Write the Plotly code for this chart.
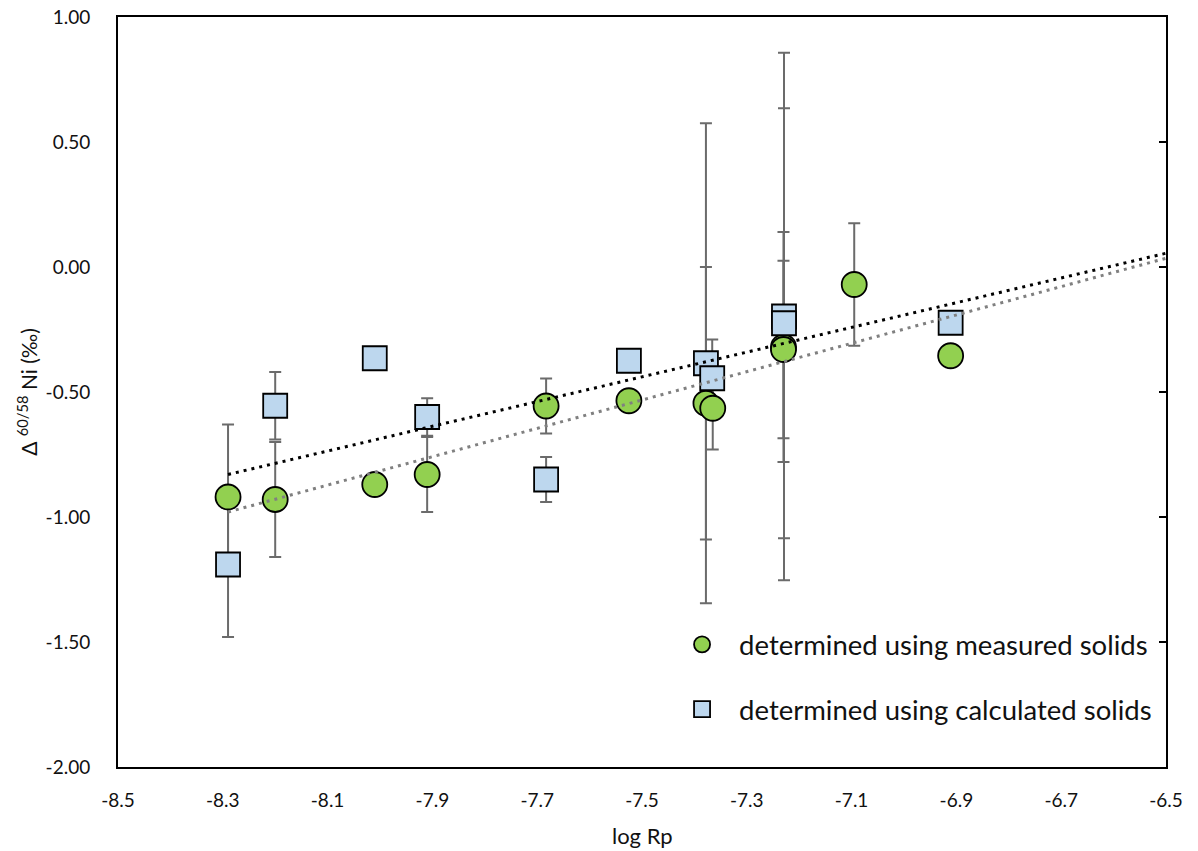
import plotly.graph_objects as go

# ---- data ----
x_meas = [-8.29, -8.20, -8.01, -7.91, -7.683, -7.525, -7.378, -7.365, -7.23, -7.23, -7.095, -6.911]
y_meas = [-0.92, -0.93, -0.87, -0.83, -0.556, -0.535, -0.545, -0.565, -0.32, -0.33, -0.07, -0.355]
e_meas = [0.29, 0.23, 0.0, 0.15, 0.11, 0.0, 0.545, 0.165, 0.46, 0.355, 0.245, 0.0]

x_calc = [-8.29, -8.20, -8.01, -7.91, -7.683, -7.525, -7.378, -7.366, -7.229, -7.229, -6.911]
y_calc = [-1.19, -0.555, -0.365, -0.60, -0.85, -0.375, -0.385, -0.445, -0.198, -0.225, -0.223]
e_calc = [0.29, 0.135, 0.0, 0.075, 0.09, 0.0, 0.96, 0.155, 1.055, 0.86, 0.0]

trend_x = [-8.29, -6.5]
trend_calc = [-0.83, 0.055]
trend_meas = [-0.98, 0.035]

x_ticks = [-8.5, -8.3, -8.1, -7.9, -7.7, -7.5, -7.3, -7.1, -6.9, -6.7, -6.5]
y_ticks = [-2.0, -1.5, -1.0, -0.5, 0.0, 0.5, 1.0]

FONT = "Lato"
TXT = "#111111"
ERR_COLOR = "#6b6b6b"
GREEN = "#92D050"
BLUE = "#BDD7EE"

fig = go.Figure()

# error bars (drawn beneath all markers)
for xs, ys, es in [(x_meas, y_meas, e_meas), (x_calc, y_calc, e_calc)]:
    fig.add_trace(go.Scatter(
        x=xs, y=ys, mode="markers",
        marker=dict(size=2, opacity=0),
        error_y=dict(type="data", array=es, visible=True, color=ERR_COLOR,
                     thickness=2, width=6),
        showlegend=False, hoverinfo="skip"))

# markers
fig.add_trace(go.Scatter(
    x=x_meas, y=y_meas, mode="markers",
    name="determined using measured solids",
    marker=dict(symbol="circle", size=25, color=GREEN,
                line=dict(color="black", width=1.8)),
    legendgroup="a"))
fig.add_trace(go.Scatter(
    x=x_calc, y=y_calc, mode="markers",
    name="determined using calculated solids",
    marker=dict(symbol="square", size=24, color=BLUE,
                line=dict(color="black", width=1.8)),
    legendgroup="b"))

# trend lines
fig.add_trace(go.Scatter(
    x=trend_x, y=trend_calc, mode="lines",
    line=dict(color="black", width=3, dash="3px,5px"),
    showlegend=False, hoverinfo="skip"))
fig.add_trace(go.Scatter(
    x=trend_x, y=trend_meas, mode="lines",
    line=dict(color="#808080", width=3, dash="3px,5px"),
    showlegend=False, hoverinfo="skip"))

# secondary y axis just for the inside ticks on the right frame
fig.add_trace(go.Scatter(x=[None], y=[None], yaxis="y2", showlegend=False,
                         hoverinfo="skip"))

fig.update_layout(
    width=1198, height=851,
    margin=dict(l=118, r=32, t=17, b=84, autoexpand=False),
    paper_bgcolor="white", plot_bgcolor="white",
    font=dict(family=FONT, size=19, color=TXT),
    showlegend=True,
    legend=dict(
        x=0.522, y=0.12, xanchor="left", yanchor="middle",
        bgcolor="rgba(0,0,0,0)", borderwidth=0,
        font=dict(family=FONT, size=27.5, color=TXT),
        traceorder="grouped", tracegroupgap=26,
        itemwidth=64,
    ),
    xaxis=dict(
        range=[-8.5, -6.5], tickvals=x_ticks,
        ticktext=[f"{v:.1f}" for v in x_ticks],
        showgrid=False, zeroline=False, automargin=False,
        showline=True, linecolor="black", linewidth=2, mirror=True,
        ticks="", ticklabelstandoff=15, ticklabeloverflow="allow",
        tickfont=dict(family=FONT, size=19, color=TXT),
    ),
    yaxis=dict(
        range=[-2.0, 1.0], tickvals=y_ticks,
        ticktext=[f"{v:.2f}" for v in y_ticks],
        showgrid=False, zeroline=False, automargin=False,
        showline=True, linecolor="black", linewidth=2, mirror=True,
        ticks="", ticklabelstandoff=22, ticklabeloverflow="allow",
        tickfont=dict(family=FONT, size=19, color=TXT),
    ),
    yaxis2=dict(
        overlaying="y", side="right", range=[-2.0, 1.0], automargin=False,
        tickvals=[-1.5, -1.0, -0.5, 0.0, 0.5],
        ticks="inside", ticklen=7, tickwidth=1.5, tickcolor="black",
        showticklabels=False, showgrid=False, zeroline=False, showline=False,
    ),
    annotations=[
        dict(text="log Rp", xref="paper", yref="paper", x=0.5, y=-0.091,
             xanchor="center", yanchor="middle", showarrow=False,
             font=dict(family=FONT, size=22, color=TXT)),
        dict(text="Δ <sup>60/58</sup> Ni (‰)", xref="paper", yref="paper",
             x=-0.087, y=0.5, xanchor="center", yanchor="middle",
             textangle=-90, showarrow=False,
             font=dict(family=FONT, size=21, color=TXT)),
    ],
)

# remove the default page margin so the figure fills the window exactly
fig.write_html("out.html", config={"displayModeBar": False},
               post_script="document.body.style.margin='0';")
